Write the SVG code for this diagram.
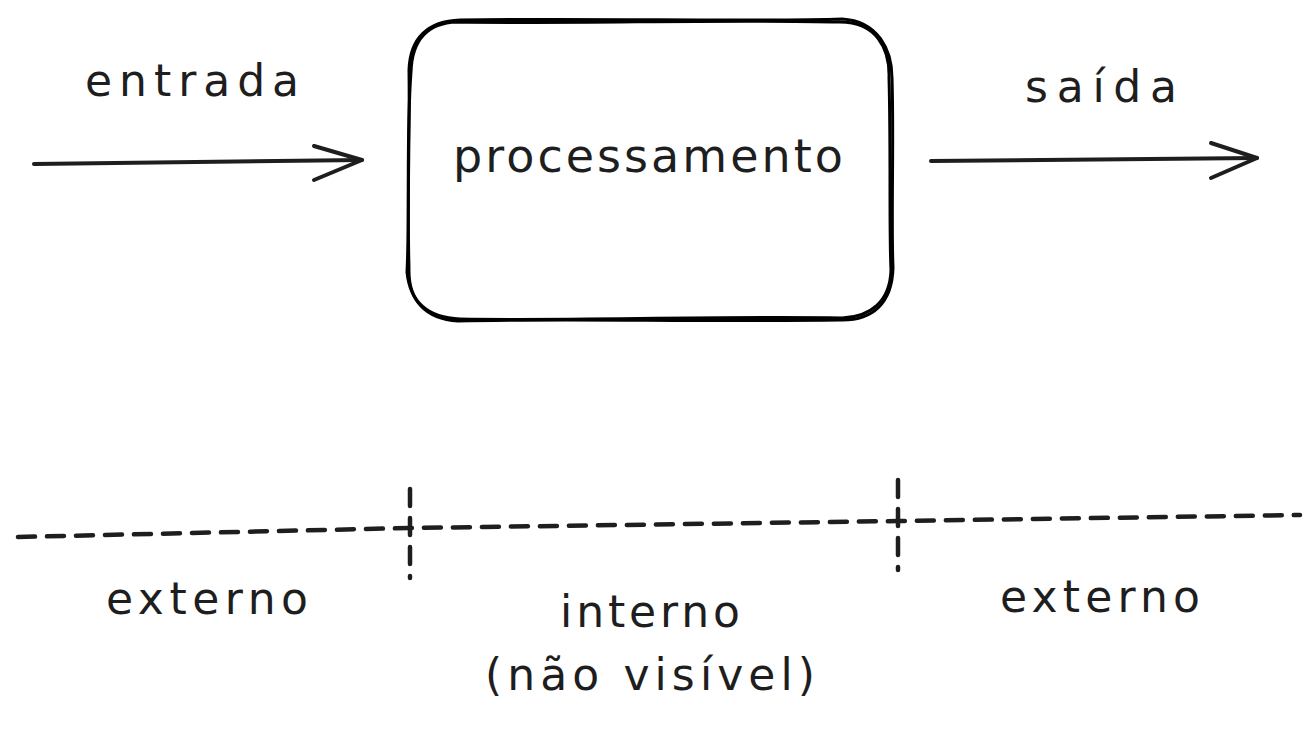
<svg xmlns="http://www.w3.org/2000/svg" width="1314" height="734" viewBox="0 0 1314 734">
<style>
.t{font-family:"DejaVu Sans","Liberation Sans",sans-serif;fill:#1e1e1e;text-anchor:middle}
.ln{fill:none;stroke:#1e1e1e;stroke-width:4;stroke-linecap:round;stroke-linejoin:round}
.box{fill:none;stroke:#000;stroke-width:3;stroke-linecap:round}
.dash{fill:none;stroke:#1e1e1e;stroke-width:4.5;stroke-linecap:round;stroke-dasharray:17 12}
</style>
<rect width="1314" height="734" fill="#fff"/>
<g id="processamento">
<path class="box" d="M460 20 C600 18 750 22 842 19 C878 21 892 50 892 78 C894 140 891 220 893 268 C892 303 873 321 840 320 C700 322 560 318 458 321 C425 319 408 300 409 268 C407 200 410 130 409 70 C410 38 428 21 460 20 Z"/>
<path class="box" d="M457 22 C580 24 720 19 840 22 C876 22 890 48 889 78 C891 150 889 230 891 270 C890 302 870 317 842 318 C710 316 570 321 460 319 C428 318 410 302 407 272 C410 210 406 140 411 72 C412 40 427 23 457 22 Z"/>
<text class="t" x="648" y="172" font-size="46" textLength="390" lengthAdjust="spacing">processamento</text>
</g>
<g id="entrada">
<text class="t" x="192" y="96" font-size="44" textLength="214" lengthAdjust="spacing">entrada</text>
</g>
<g id="saida">
<text class="t" x="1101" y="102" font-size="44" textLength="152" lengthAdjust="spacing">saída</text>
</g>
<g id="externo-esq">
<text class="t" x="207" y="614" font-size="44" textLength="202" lengthAdjust="spacing">externo</text>
</g>
<g id="interno">
<text class="t" x="650" y="627" font-size="44" textLength="180" lengthAdjust="spacing">interno</text>
<text class="t" x="650" y="690" font-size="44" textLength="330" lengthAdjust="spacing">(não visível)</text>
</g>
<g id="externo-dir">
<text class="t" x="1100" y="612" font-size="44" textLength="200" lengthAdjust="spacing">externo</text>
</g>
<g id="connectors">
<path class="ln" d="M34 164 C150 162 260 161 362 160"/>
<path class="ln" d="M314 146 L362 160 L314 180"/>
<path class="ln" d="M931 161 C1050 160 1160 159 1257 158"/>
<path class="ln" d="M1211 143 L1257 158 L1211 178"/>
<path class="dash" d="M18 537 L410 528 L898 521 L1300 515"/>
<path class="dash" d="M410 489 L410 578"/>
<path class="dash" d="M898 480 L898 570"/>
</g>
</svg>
